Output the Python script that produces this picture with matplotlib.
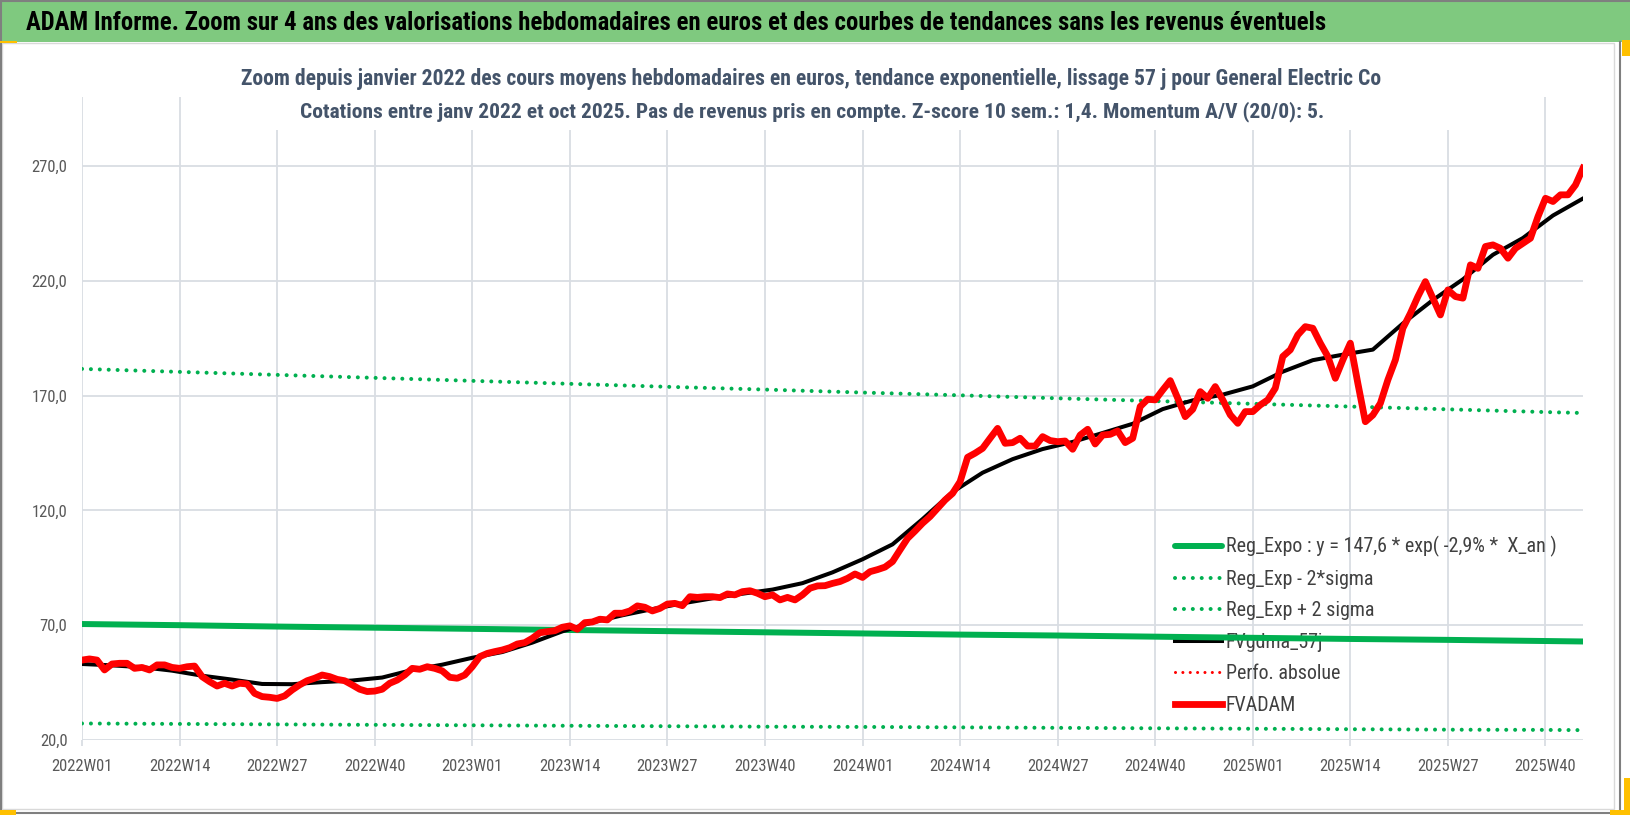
import numpy as np
import matplotlib
matplotlib.use("Agg")
import matplotlib.pyplot as plt
from matplotlib.patches import Rectangle
from matplotlib.lines import Line2D

# ---------------- data ----------------
tick_weeks = ["2022W01", "2022W14", "2022W27", "2022W40", "2023W01", "2023W14",
              "2023W27", "2023W40", "2024W01", "2024W14", "2024W27", "2024W40",
              "2025W01", "2025W14", "2025W27", "2025W40"]
y_ticks = [20, 70, 120, 170, 220, 270]

# FVADAM : weekly average prices (EUR)
fvadam = [
    54.8, 55.3, 54.8, 50.5, 53.1, 53.4, 53.4, 51.2, 51.6, 50.5,
    52.7, 52.7, 51.6, 51.2, 51.9, 52.2, 47.6, 45.4, 43.5, 44.7,
    43.5, 44.7, 44.4, 40.3, 38.9, 38.6, 38.1, 39.2, 41.8, 44.0,
    45.8, 46.9, 48.3, 47.6, 46.4, 45.8, 44.0, 42.1, 41.1, 41.3,
    42.1, 44.7, 46.1, 48.3, 51.2, 50.8, 51.9, 51.2, 50.1, 47.3,
    46.9, 48.3, 51.9, 56.3, 57.7, 58.5,
    59.2, 60.2, 61.8, 62.4, 64.3, 66.7, 67.2, 67.6, 69.1, 69.7,
    68.2, 71.1, 71.4, 72.6, 72.3, 75.2, 75.2, 76.2, 78.4, 77.8,
    76.2, 77.3, 79.2, 79.5, 78.5, 82.4, 82.1, 82.4, 82.4, 82.0,
    83.6, 83.2, 84.6, 85.0, 83.9, 82.4, 83.2, 81.0, 82.1, 81.0,
    83.2, 86.1, 87.1, 87.2, 88.2, 89.0, 90.4, 92.3, 90.8, 93.3,
    94.2, 95.3,
    97.7, 102.8, 107.8, 111.0, 114.4, 117.3, 120.9, 124.5, 127.4, 132.5,
    143.1, 144.9, 147.0, 151.4, 155.7, 149.2, 149.5, 151.4, 148.0, 148.0,
    152.1, 150.4, 149.9, 150.2, 146.6, 152.8, 155.3, 148.9, 152.8, 153.1,
    154.6, 149.5, 151.4, 165.2, 168.4, 168.1, 172.4, 176.5, 168.8, 160.8,
    164.0, 171.7, 168.8, 173.9, 168.1, 161.6, 157.9, 163.0, 163.0, 165.9,
    168.1, 173.2, 187.0, 189.9, 196.4, 200.0, 199.3, 192.8, 187.0, 177.5,
    185.5, 192.8, 175.3, 158.6, 161.5, 166.6, 176.8, 185.5, 199.3, 205.8,
    213.1, 219.6, 212.4, 205.1, 216.0, 213.1, 212.4, 226.9, 225.4, 234.9,
    235.6, 234.1, 229.8, 234.1, 236.3, 238.5, 247.9, 255.9, 254.5, 257.4,
    257.4, 261.7, 269.0,
]

# FVgdma_57j : smoothed curve, read every 4 weeks
fvgdma = [
    53.1, 52.5, 51.7, 50.2, 48.0, 46.3, 44.4, 44.3, 45.2, 45.9,
    47.2, 50.5, 52.8, 55.8, 58.3, 62.4, 67.3, 71.2, 74.3, 77.0,
    79.5, 81.7, 83.7, 85.5, 88.3, 93.0, 98.7, 105.2, 116.2, 128.0,
    136.4, 142.3, 146.7, 149.8, 153.7, 157.7, 164.1, 167.9, 170.4, 174.0,
    180.4, 185.4, 187.8, 190.0, 201.4, 211.6, 220.6, 231.3, 238.6, 248.4,
    255.8,
]

# regression curve and +/- 2 sigma bands, read at the labelled weeks + last week
reg_weeks = tick_weeks + ["2025W45"]
reg_expo = [70.5, 70.0, 69.4, 68.9, 68.4, 67.9, 67.4, 66.9, 66.4, 65.9,
            65.5, 65.0, 64.5, 64.0, 63.6, 63.1, 62.9]
reg_lo = [27.2, 27.0, 26.8, 26.6, 26.4, 26.2, 26.0, 25.8, 25.7, 25.5,
          25.3, 25.1, 24.9, 24.7, 24.5, 24.4, 24.3]
reg_hi = [181.6, 180.3, 179.0, 177.7, 176.4, 175.1, 173.8, 172.6, 171.3, 170.1,
          168.8, 167.6, 166.4, 165.2, 164.0, 162.8, 162.4]

legend_labels = ["Reg_Expo : y = 147,6 * exp( -2,9% *  X_an )",
                 "Reg_Exp - 2*sigma", "Reg_Exp + 2 sigma", "FVgdma_57j",
                 "Perfo. absolue", "FVADAM"]

title_text = ("ADAM Informe. Zoom sur 4 ans des valorisations hebdomadaires en euros "
              "et des courbes de tendances sans les revenus éventuels")
subtitle_1 = ("Zoom depuis janvier 2022 des cours moyens hebdomadaires en euros, tendance "
              "exponentielle, lissage 57 j pour General Electric Co")
subtitle_2 = ("Cotations entre janv 2022 et oct 2025. Pas de revenus pris en compte. "
              "Z-score 10 sem.: 1,4. Momentum A/V (20/0): 5.")

# ---------------- layout helpers ----------------
W, H = 1630, 815
FONT = ["Roboto Condensed", "Lato", "DejaVu Sans"]
plt.rcParams["font.family"] = FONT

weeks = [f"{2022 + i // 52}W{i % 52 + 1:02d}" for i in range(len(fvadam))]
pos = {w: i for i, w in enumerate(weeks)}

fig = plt.figure(figsize=(W / 100, H / 100), dpi=100)
fig.patch.set_facecolor("white")


def fx(x):
    return x / W


def fy(y):
    return 1 - y / H


def rect(x0, y0, x1, y1, **kw):
    r = Rectangle((fx(x0), fy(y1)), fx(x1) - fx(x0), fy(y0) - fy(y1),
                  transform=fig.transFigure, **kw)
    fig.add_artist(r)
    return r


def hline(x0, x1, y, **kw):
    fig.add_artist(Line2D([fx(x0), fx(x1)], [fy(y), fy(y)], transform=fig.transFigure, **kw))


def vline(x, y0, y1, **kw):
    fig.add_artist(Line2D([fx(x), fx(x)], [fy(y0), fy(y1)], transform=fig.transFigure, **kw))


# ---------------- axes ----------------
AX_L, AX_R, AX_T, AX_B = 82.0, 1583.0, 97, 740
ax = fig.add_axes([fx(AX_L), fy(AX_B), fx(AX_R) - fx(AX_L), fy(AX_T) - fy(AX_B)])
ax.set_xlim(0, len(fvadam) - 1)
ax.set_ylim(20, 300)
for s in ax.spines.values():
    s.set_visible(False)

GRID = "#D9DDE3"
ax.set_axisbelow(True)
ax.set_yticks(y_ticks)
ax.set_yticklabels([f"{v:.1f}".replace(".", ",") for v in y_ticks])
ax.set_xticks([pos[w] for w in tick_weeks])
ax.set_xticklabels(tick_weeks)
ax.grid(True, color=GRID, linewidth=1.3)
TICK_FS = 11.5
ax.tick_params(axis="x", length=4.3, width=1.3, color=GRID, pad=9.5,
               labelsize=TICK_FS, labelcolor="#595959")
ax.tick_params(axis="y", length=0, pad=10.5, labelsize=TICK_FS, labelcolor="#595959")

GREEN = "#00B050"
rx = [pos[w] for w in reg_weeks]
bx = [pos[w] for w in weeks[::4]]
dot = dict(linestyle=(0, (0.01, 2.2)), dash_capstyle="round", linewidth=2.9, color=GREEN)

l1, = ax.plot(rx, reg_expo, color=GREEN, linewidth=4.3, solid_capstyle="round", zorder=2)
l2, = ax.plot(rx, reg_lo, zorder=2, **dot)
l3, = ax.plot(rx, reg_hi, zorder=2, **dot)
l4, = ax.plot(bx, fvgdma, color="black", linewidth=2.9, zorder=3)
l5, = ax.plot([], [], color="#FF0000", linestyle=(0, (0.01, 2.4)), dash_capstyle="round",
              linewidth=2.2)
l6, = ax.plot(range(len(fvadam)), fvadam, color="#FF0000", linewidth=4.9,
              solid_joinstyle="round", zorder=4)
handles = [l1, l2, l3, l4, l5, l6]


def make_legend(fs, spacing, ax0, ay0):
    fs_px = fs * 100 / 72
    lg = ax.legend(handles, legend_labels, loc="upper left",
                   bbox_to_anchor=(fx(ax0), fy(ay0)), bbox_transform=fig.transFigure,
                   frameon=False, fontsize=fs, handlelength=46.5 / fs_px,
                   handletextpad=4.0 / fs_px, labelspacing=spacing,
                   borderpad=0, borderaxespad=0)
    for t in lg.get_texts():
        t.set_color("#404040")
    lg.set_zorder(1)
    return lg


# ---------------- frame / decorations ----------------
rect(0, 0, W, 42, facecolor="#7FC97F", edgecolor="none", zorder=5)
hline(0, W, 0.8, color="#7F7F7F", linewidth=1.5, zorder=6)
rect(2, 43, 1614, 809, facecolor="none", edgecolor="#D9D9D9", linewidth=1.0, zorder=5)
hline(0, 1620, 813, color="#7F7F7F", linewidth=1.5, zorder=6)
vline(0.7, 0, 813, color="#7F7F7F", linewidth=1.5, zorder=6)
vline(1619.5, 42, 813, color="#7F7F7F", linewidth=1.5, zorder=6)
# subtitle box (covers gridlines)
rect(195, 48, 1470, 130, facecolor="white", edgecolor="none", zorder=5)
# small yellow selection marks
YEL = "#FFC000"
rect(1622, 40, 1630, 56, facecolor=YEL, edgecolor="none", zorder=6)
rect(1624, 778, 1630, 815, facecolor=YEL, edgecolor="none", zorder=6)
rect(1610, 810, 1630, 815, facecolor=YEL, edgecolor="none", zorder=6)
rect(0, 810, 16, 815, facecolor=YEL, edgecolor="none", zorder=6)
rect(0, 41, 17, 43, facecolor=YEL, edgecolor="none", zorder=6)

t0 = fig.text(fx(26), fy(23.5), title_text, ha="left", va="center", fontsize=16,
              fontweight="bold", color="black", zorder=7)
t1 = fig.text(fx(811), fy(79), subtitle_1, ha="center", va="center", fontsize=13.5,
              fontweight="bold", color="#44546A", zorder=7)
t2 = fig.text(fx(812), fy(112), subtitle_2, ha="center", va="center", fontsize=13.5,
              fontweight="bold", color="#44546A", zorder=7)

# ---------------- fit text sizes / positions to the reference ----------------
fig.canvas.draw()
r = fig.canvas.get_renderer()
for t, target in ((t0, 1295), (t1, 1140), (t2, 1021)):
    w = t.get_window_extent(r).width
    t.set_fontsize(t.get_fontsize() * target / w)

# tick label size: "270,0" is ~36 px wide
wy = ax.get_yticklabels()[-1].get_window_extent(r).width
TICK_FS = TICK_FS * 36.0 / wy
ax.tick_params(axis="both", labelsize=TICK_FS)

# legend: first label ~332 px wide, rows 31.7 px apart, text starting at x=1225.7
leg = make_legend(14.0, 0.42, 1175, 533)
fig.canvas.draw()
w0 = leg.get_texts()[0].get_window_extent(r).width
fs = 14.0 * 332.0 / w0
leg = make_legend(fs, 0.42, 1175, 533)
fig.canvas.draw()


def centers(lg):
    bbs = [t.get_window_extent(r) for t in lg.get_texts()]
    return [(H - (b.y0 + b.y1) / 2) for b in bbs], bbs[0].x0


cy, x0 = centers(leg)
sp = (cy[-1] - cy[0]) / 5
ls = 0.42 + (31.7 - sp) / (fs * 100 / 72)
leg = make_legend(fs, ls, 1175, 533)
fig.canvas.draw()
cy, x0 = centers(leg)
leg = make_legend(fs, ls, 1175 + (1225.7 - x0), 533 + (546.7 - cy[0]))

fig.savefig("out.png", dpi=100, facecolor="white")
